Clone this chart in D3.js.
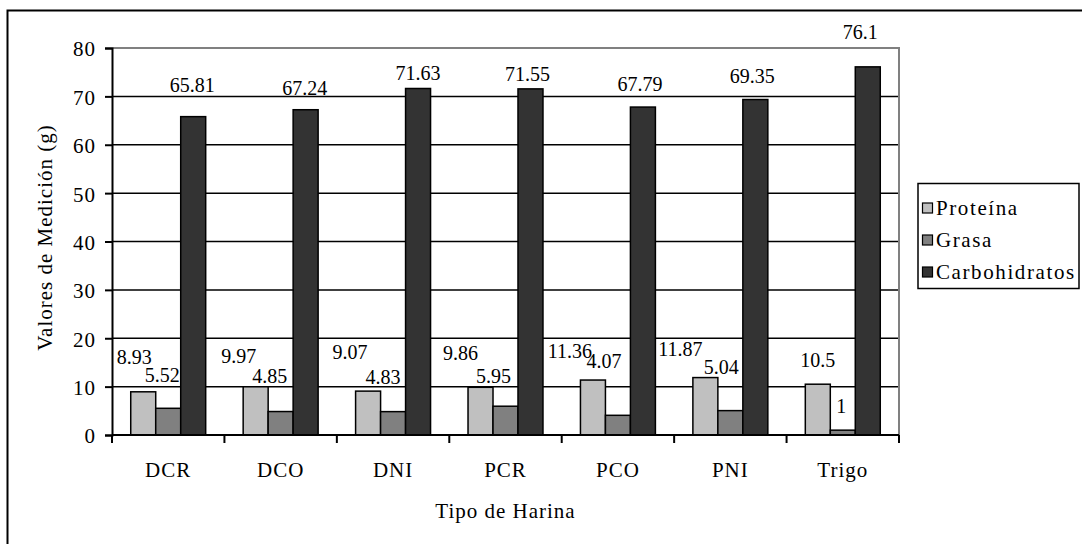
<!DOCTYPE html>
<html>
<head>
<meta charset="utf-8">
<script src="https://cdn.jsdelivr.net/npm/d3@7"></script>
<style>
  html, body { margin: 0; padding: 0; background: #fff; }
  svg text { fill: #000; }
</style>
</head>
<body>
<svg id="chart" width="1082" height="544"></svg>
<script>
// Composición de las harinas (g por 100 g)
const categories = ["DCR", "DCO", "DNI", "PCR", "PCO", "PNI", "Trigo"];
const seriesNames = ["Proteína", "Grasa", "Carbohidratos"];
const proteina = [8.93, 9.97, 9.07, 9.86, 11.36, 11.87, 10.5];
const grasa = [5.52, 4.85, 4.83, 5.95, 4.07, 5.04, 1];
const carbohidratos = [65.81, 67.24, 71.63, 71.55, 67.79, 69.35, 76.1];
const yTicks = [0, 10, 20, 30, 40, 50, 60, 70, 80];

// Hand placement of the value labels: horizontal shift and lift above the bar top (px)
const labelShift = [
  [-9, -17, -18, -20, -23, -25, 0],
  [-6, -11, -10, -12, -14, -9, -1.5],
  [-1, -1, 0, -3, -3, -3, -7.5]
];
const labelLift = [
  [28, 24, 32, 27, 22, 22, 17],
  [26, 29, 28, 23, 47, 37, 17],
  [25, 15, 8, 8, 16, 17, 28]
];

const seriesValues = [proteina, grasa, carbohidratos];
const colors = ["#c0c0c0", "#808080", "#333333"];
const FONT = '"Liberation Serif", "Times New Roman", Tinos, serif';

const svg = d3.select("#chart");

// outer chart border (extends past the right/bottom edges)
svg.append("rect")
  .attr("x", 7.5).attr("y", 10.5)
  .attr("width", 1200).attr("height", 700)
  .attr("fill", "none").attr("stroke", "#000").attr("stroke-width", 2);

const plot = { left: 112, right: 899, top: 48, bottom: 435 };

const x0 = d3.scaleBand().domain(categories).range([plot.left, plot.right]).padding(0);
const bw = x0.bandwidth();
const gap = bw * 0.75 / 4.5;
const x1 = d3.scaleBand().domain(seriesNames).range([gap, bw - gap]).padding(0);
const y = d3.scaleLinear().domain([0, 80]).range([plot.bottom, plot.top]);

// gridlines
svg.append("g")
  .selectAll("line")
  .data(yTicks.filter(t => t > 0 && t < 80))
  .join("line")
  .attr("x1", plot.left).attr("x2", plot.right)
  .attr("y1", d => y(d)).attr("y2", d => y(d))
  .attr("stroke", "#000").attr("stroke-width", 1.5);

// plot-area frame (top and right)
svg.append("path")
  .attr("d", `M${plot.left},${y(80)}H${plot.right}V${plot.bottom}`)
  .attr("fill", "none").attr("stroke", "#808080").attr("stroke-width", 2);

// bars
const rows = [];
categories.forEach((c, i) => {
  seriesNames.forEach((s, j) => {
    rows.push({ cat: c, ser: s, j, i, v: seriesValues[j][i] });
  });
});

svg.append("g")
  .selectAll("rect")
  .data(rows)
  .join("rect")
  .attr("x", d => x0(d.cat) + x1(d.ser))
  .attr("y", d => y(d.v))
  .attr("width", x1.bandwidth())
  .attr("height", d => y(0) - y(d.v))
  .attr("fill", d => colors[d.j])
  .attr("stroke", "#000").attr("stroke-width", 1.5);

// value labels
svg.append("g")
  .selectAll("text")
  .data(rows)
  .join("text")
  .attr("x", d => x0(d.cat) + x1(d.ser) + x1.bandwidth() / 2 + labelShift[d.j][d.i])
  .attr("y", d => y(d.v) - labelLift[d.j][d.i])
  .attr("text-anchor", "middle")
  .style("font-family", FONT)
  .style("font-size", "20px")
  .text(d => String(d.v));

// y axis
const yAxis = d3.axisLeft(y).tickValues(yTicks).tickSize(7).tickPadding(9).tickFormat(d3.format("d"));
const gy = svg.append("g").attr("transform", `translate(${plot.left},0)`).call(yAxis);
gy.select(".domain").attr("stroke", "#000").attr("stroke-width", 2);
gy.selectAll(".tick line").attr("stroke", "#000").attr("stroke-width", 2);
gy.selectAll(".tick text")
  .attr("dy", "0.38em")
  .style("font-family", FONT)
  .style("font-size", "21px")
  .style("letter-spacing", "1px");

// x axis: ticks between the categories
const boundaries = d3.range(categories.length + 1).map(k => plot.left + k * bw);
svg.append("line")
  .attr("x1", plot.left).attr("x2", plot.right)
  .attr("y1", plot.bottom).attr("y2", plot.bottom)
  .attr("stroke", "#000").attr("stroke-width", 2);
svg.append("g")
  .selectAll("line")
  .data(boundaries)
  .join("line")
  .attr("x1", d => d).attr("x2", d => d)
  .attr("y1", plot.bottom).attr("y2", plot.bottom + 8)
  .attr("stroke", "#000").attr("stroke-width", 2);
svg.append("g")
  .selectAll("text")
  .data(categories)
  .join("text")
  .attr("x", d => x0(d) + bw / 2)
  .attr("y", 477)
  .attr("text-anchor", "middle")
  .style("font-family", FONT)
  .style("font-size", "21px")
  .style("letter-spacing", "1px")
  .text(d => d);

// axis titles
svg.append("text")
  .attr("x", (plot.left + plot.right) / 2)
  .attr("y", 518)
  .attr("text-anchor", "middle")
  .style("font-family", FONT)
  .style("font-size", "21px")
  .style("letter-spacing", "1px")
  .text("Tipo de Harina");

svg.append("text")
  .attr("transform", `translate(52,${(plot.top + plot.bottom) / 2 - 4}) rotate(-90)`)
  .attr("text-anchor", "middle")
  .style("font-family", FONT)
  .style("font-size", "21px")
  .style("letter-spacing", "1px")
  .text("Valores de Medición (g)");

// legend
const legend = svg.append("g");
legend.append("rect")
  .attr("x", 918).attr("y", 183.5)
  .attr("width", 161).attr("height", 105)
  .attr("fill", "#fff").attr("stroke", "#000").attr("stroke-width", 1.5);
const items = legend.selectAll("g.item")
  .data(seriesNames)
  .join("g")
  .attr("class", "item")
  .attr("transform", (d, k) => `translate(922,${209 + k * 32})`);
items.append("rect")
  .attr("x", 0.5).attr("y", -6)
  .attr("width", 10).attr("height", 10)
  .attr("fill", (d, k) => colors[k])
  .attr("stroke", "#000").attr("stroke-width", 1.2);
items.append("text")
  .attr("x", 14).attr("y", 6)
  .style("font-family", FONT)
  .style("font-size", "21px")
  .style("letter-spacing", "1.6px")
  .text(d => d);
</script>
</body>
</html>
